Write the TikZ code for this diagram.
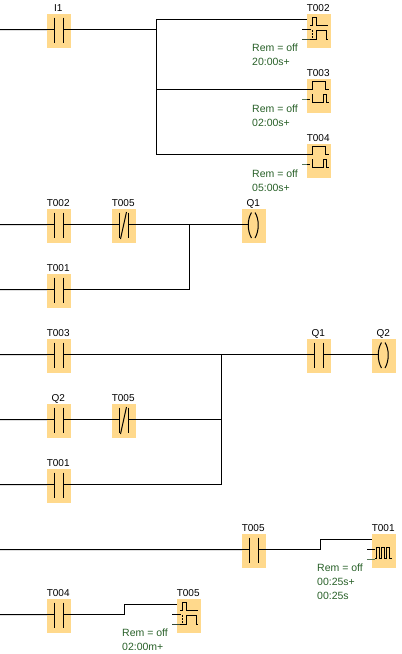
\documentclass[tikz,border=0pt]{standalone}
\usepackage{fontspec}
\setmainfont{Liberation Sans}
\usetikzlibrary{positioning}
\definecolor{BlockColor}{RGB}{255,217,140}
\definecolor{RemGreen}{RGB}{40,96,40}
\definecolor{StubGreen}{RGB}{90,120,90}
\tikzset{
  block/.style={fill=BlockColor, inner sep=0pt, minimum width=24pt, minimum height=34pt, anchor=north west},
  tag/.style={font=\fontsize{10}{12}\selectfont, inner sep=0pt, text height=7pt, text depth=0pt, xshift=-1pt},
  remtext/.style={font=\fontsize{10.5}{12}\selectfont, text=RemGreen, inner sep=0pt, anchor=west},
  wire/.style={line width=1pt, black},
  stub/.style={line width=1.8pt, black},
  sym/.style={line width=1pt, black},
  contactsym/.pic={
    \draw[stub] (0,15.5)--(7.3,15.5);
    \draw[stub] (16,15.5)--(24,15.5);
    \draw[sym] (7.3,3.5)--(7.3,29);
    \draw[sym] (16,3.5)--(16,29);
  },
  breaksym/.pic={
    \draw[stub] (0,15.5)--(7,15.5);
    \draw[stub] (16,15.5)--(24,15.5);
    \draw[sym] (7,3.5)--(7,29);
    \draw[sym] (16,3.5)--(16,29);
    \draw[sym] (8.5,30)--(14.5,3);
  },
  coilsym/.pic={
    \draw[stub] (0,15.5)--(6.5,15.5);
    \draw[sym] (9.5,3.5) .. controls (5.2,10) and (5.2,22) .. (9.5,29);
    \draw[sym] (13,3.5) .. controls (17.3,10) and (17.3,22) .. (13,29);
  },
  ondelaysym/.pic={
    \draw[line width=1pt, black] (-5,15)--(4,15);
    \draw[line width=1pt, StubGreen!60!black] (-5,25)--(3,25);
    \draw[sym] (3,11.7)--(5.7,11.7)--(5.7,3.3)--(9,3.3)--(9,11.7)--(21,11.7);
    \draw[sym] (3,25.3)--(9.7,25.3)--(9.7,16)--(19,16)--(19,25.3)--(21,25.3);
    \draw[line width=.7pt, dash pattern=on 2pt off 1pt] (5.7,16)--(5.7,25);
  },
  offdelaysym/.pic={
    \draw[sym] (0,10)--(5,10)--(5,2)--(18.5,2)--(18.5,10)--(22,10);
    \draw[line width=1pt, StubGreen] (-5,20)--(0,20);
    \draw[sym] (0,20)--(3,20);
    \draw[sym] (5,23.7)--(16,23.7)--(16,15)--(19,15)--(19,23.7)--(22,23.7);
    \draw[line width=.8pt] (5.5,15)--(5.5,23.7);
  },
  pulsesym/.pic={
    \draw[line width=1pt, black] (-5,15)--(3,15);
    \draw[line width=1pt, StubGreen] (-5,25)--(3,25);
    \draw[sym] (3,24)--(4.7,24);
    \foreach \tx in {4.7,9.7,14.7}
      \draw[sym] (\tx,24)--(\tx,13.7)--(\tx+2.6,13.7)--(\tx+2.6,24)--(\tx+5,24);
  }
}
\newcommand{\ladderblock}[5]{%
  \node[block] (#1) at (#2,#3) {};
  \node[tag, above=2pt of #1] (#1tag) {#4};
  \pic at (#1.north west) {#5};
  \coordinate (#1in) at ([yshift=1.5pt]#1.west);
  \coordinate (#1out) at ([yshift=1.5pt]#1.east);
}
\newcommand{\timerblock}[6]{%
  \node[block] (#1) at (#2,#3) {};
  \node[tag, above=2pt of #1] (#1tag) {#4};
  \pic at (#1.north west) {#5};
  \coordinate (#1in) at ([yshift=#6pt]#1.west);
}
\begin{document}
\begin{tikzpicture}[x=1pt,y=-1pt]
  \useasboundingbox (0,0) rectangle (402,654);
  \coordinate (railA) at (0,29.5);
  \coordinate (railB) at (0,224.5);
  \coordinate (railC) at (0,289.5);
  \coordinate (railD) at (0,354.5);
  \coordinate (railE) at (0,419.5);
  \coordinate (railF) at (0,484.5);
  \coordinate (railG) at (0,549.5);
  \coordinate (railH) at (0,614.5);
  \coordinate (junA) at (156,0);
  \coordinate (junB) at (189.5,0);
  \coordinate (junC) at (221.5,0);
  \coordinate (junD) at (320,0);
  \coordinate (junE) at (124,0);
  \ladderblock{I1}{47}{14}{I1}{contactsym}
  \timerblock{TwoT}{307}{14}{T002}{ondelaysym}{11.5}
  \timerblock{ThreeT}{307}{79}{T003}{offdelaysym}{7}
  \timerblock{FourT}{307}{144}{T004}{offdelaysym}{7}
  \ladderblock{TwoC}{47}{209}{T002}{contactsym}
  \ladderblock{FiveA}{112}{209}{T005}{breaksym}
  \ladderblock{OneQ}{242}{209}{Q1}{coilsym}
  \ladderblock{OneA}{47}{274}{T001}{contactsym}
  \ladderblock{ThreeC}{47}{339}{T003}{contactsym}
  \ladderblock{OneC}{307}{339}{Q1}{contactsym}
  \ladderblock{TwoQ}{372}{339}{Q2}{coilsym}
  \ladderblock{TwoB}{47}{404}{Q2}{contactsym}
  \ladderblock{FiveB}{112}{404}{T005}{breaksym}
  \ladderblock{OneB}{47}{469}{T001}{contactsym}
  \ladderblock{FiveC}{242}{534}{T005}{contactsym}
  \timerblock{OneT}{372}{534}{T001}{pulsesym}{12}
  \ladderblock{FourC}{47}{599}{T004}{contactsym}
  \timerblock{FiveT}{177}{599}{T005}{ondelaysym}{12}
  \draw[wire] (railA)--(I1in);
  \draw[wire] (I1out)--(I1out -| junA);
  \draw[wire] (TwoTin)--(TwoTin -| junA)--(FourTin -| junA)--(FourTin);
  \draw[wire] (ThreeTin -| junA)--(ThreeTin);
  \draw[wire] (railB)--(TwoCin);
  \draw[wire] (TwoCout)--(FiveAin);
  \draw[wire] (FiveAout)--(OneQin);
  \draw[wire] (railC)--(OneAin);
  \draw[wire] (OneAout)--(OneAout -| junB)--(OneQin -| junB);
  \draw[wire] (railD)--(ThreeCin);
  \draw[wire] (ThreeCout)--(OneCin);
  \draw[wire] (OneCout)--(TwoQin);
  \draw[wire] (railE)--(TwoBin);
  \draw[wire] (TwoBout)--(FiveBin);
  \draw[wire] (FiveBout)--(FiveBout -| junC);
  \draw[wire] (railF)--(OneBin);
  \draw[wire] (OneBout)--(OneBout -| junC)--(ThreeCout -| junC);
  \draw[wire] (railG)--(FiveCin);
  \draw[wire] (FiveCout)--(FiveCout -| junD)--(OneTin -| junD)--(OneTin);
  \draw[wire] (railH)--(FourCin);
  \draw[wire] (FourCout)--(FourCout -| junE)--(FiveTin -| junE)--(FiveTin);
  \node[remtext] (remA) at (252,47.5) {Rem = off};
  \node[remtext] (timeA) at (252,61.5) {20:00s+};
  \node[remtext] (remB) at (252,108.5) {Rem = off};
  \node[remtext] (timeB) at (252,122.5) {02:00s+};
  \node[remtext] (remC) at (252,173.5) {Rem = off};
  \node[remtext] (timeC) at (252,187.5) {05:00s+};
  \node[remtext] (remD) at (317,567.5) {Rem = off};
  \node[remtext] (timeD) at (317,581.5) {00:25s+};
  \node[remtext] (pauseD) at (317,595.5) {00:25s};
  \node[remtext] (remE) at (122,632.5) {Rem = off};
  \node[remtext] (timeE) at (122,646.5) {02:00m+};
\end{tikzpicture}
\end{document}
